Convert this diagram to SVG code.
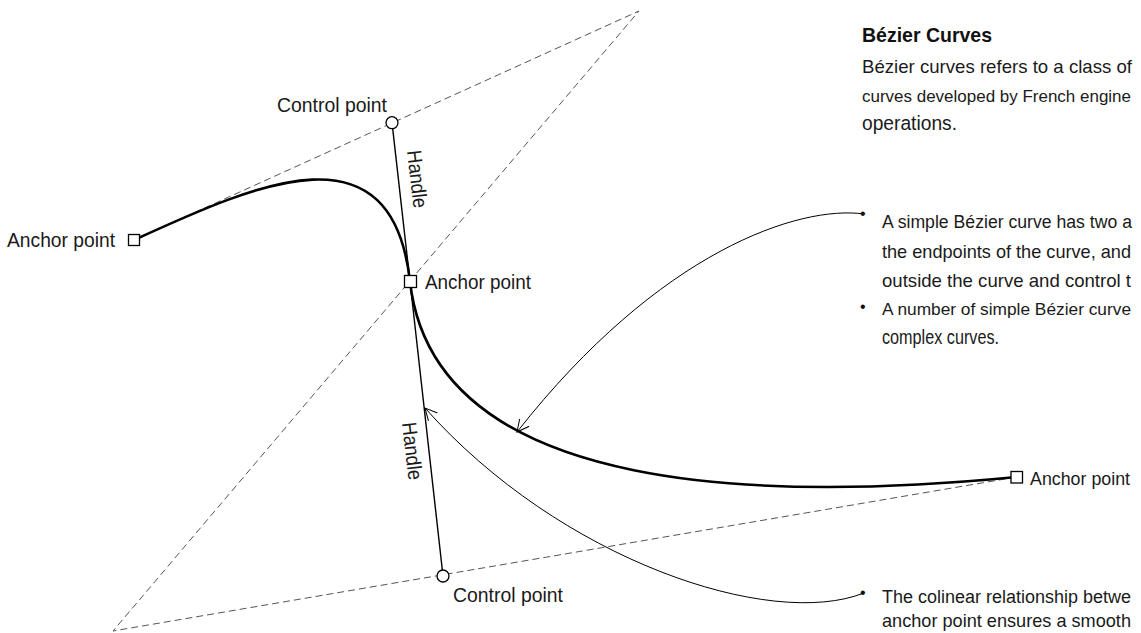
<svg xmlns="http://www.w3.org/2000/svg" width="1141" height="633" viewBox="0 0 1141 633">
  <defs>
    <style>
      .txt { font-family: "Liberation Sans", "Noto Sans", sans-serif; font-size: 20.5px; fill: #1a1a1a; }
      .head { font-family: "Liberation Sans", "Noto Sans", sans-serif; font-size: 21px; font-weight: bold; fill: #111; }
      .bul { font-family: "Liberation Sans", "Noto Sans", sans-serif; font-size: 16px; fill: #111; }
      .dash { fill: none; stroke: #555; stroke-width: 1; stroke-dasharray: 7 4; }
      .curve { fill: none; stroke: #000; stroke-width: 2.6; }
      .handle { fill: none; stroke: #000; stroke-width: 1.4; }
      .conn { fill: none; stroke: #000; stroke-width: 1; }
      .anchor { fill: #fff; stroke: #000; stroke-width: 1.3; }
      .ctrl { fill: #fff; stroke: #000; stroke-width: 1.3; }
    </style>
    <marker id="openArrow" markerUnits="userSpaceOnUse" markerWidth="14" markerHeight="14" refX="12" refY="6" orient="auto" viewBox="0 0 14 12">
      <path d="M0,0 L12,6 L0,12" fill="none" stroke="#000" stroke-width="1"/>
    </marker>
  </defs>

  <!-- construction (dashed) lines -->
  <g id="guides">
    <polyline class="dash" points="134,240 639,11 113,631 1016.7,477"/>
  </g>

  <!-- handles -->
  <g id="handles">
    <line class="handle" x1="392" y1="122.7" x2="410" y2="281.5"/>
    <line class="handle" x1="410" y1="281.5" x2="443" y2="576"/>
  </g>

  <!-- Bezier curves -->
  <g id="curves">
    <path class="curve" d="M134,240 C260,182.4 392,122.7 410,281.5"/>
    <path class="curve" d="M410,281.5 C434.6,501 780,500 1016.7,477"/>
  </g>

  <!-- connectors -->
  <g id="connectors">
    <path class="conn" d="M864,214 C800,205 660,250 517,432" marker-end="url(#openArrow)"/>
    <path class="conn" d="M864,593 C770,630 560,560 425,408" marker-end="url(#openArrow)"/>
  </g>

  <!-- nodes -->
  <g id="anchor-left">
    <rect class="anchor" x="128.5" y="234.5" width="11" height="11"/>
    <text class="txt" x="7" y="246.5" textLength="108" lengthAdjust="spacingAndGlyphs">Anchor point</text>
  </g>
  <g id="control-top">
    <circle class="ctrl" cx="392" cy="122.7" r="6"/>
    <text class="txt" x="277" y="112" textLength="110" lengthAdjust="spacingAndGlyphs">Control point</text>
  </g>
  <g id="anchor-middle">
    <rect class="anchor" x="404.5" y="275.5" width="12" height="12"/>
    <text class="txt" x="425" y="288.5" textLength="106" lengthAdjust="spacingAndGlyphs">Anchor point</text>
  </g>
  <g id="control-bottom">
    <circle class="ctrl" cx="443" cy="576" r="6"/>
    <text class="txt" x="453" y="601.5" textLength="110" lengthAdjust="spacingAndGlyphs">Control point</text>
  </g>
  <g id="anchor-right">
    <rect class="anchor" x="1011" y="471.5" width="11.5" height="11.5"/>
    <text class="txt" x="1030" y="485" style="font-size:17.9px" textLength="100" lengthAdjust="spacingAndGlyphs">Anchor point</text>
  </g>
  <g id="handle-label-top">
    <text class="txt" transform="translate(407,151) rotate(83.5)" x="0" y="0" textLength="58" lengthAdjust="spacingAndGlyphs">Handle</text>
  </g>
  <g id="handle-label-bottom">
    <text class="txt" transform="translate(402,423) rotate(83.5)" x="0" y="0" textLength="58" lengthAdjust="spacingAndGlyphs">Handle</text>
  </g>

  <!-- description panel -->
  <g id="description">
    <text class="head" x="862" y="41.5" textLength="130" lengthAdjust="spacingAndGlyphs">Bézier Curves</text>
    <text class="txt" x="862" y="73" style="font-size:18.6px" textLength="270" lengthAdjust="spacingAndGlyphs">Bézier curves refers to a class of</text>
    <text class="txt" x="862" y="101.5" style="font-size:17px" textLength="269" lengthAdjust="spacingAndGlyphs">curves developed by French engine</text>
    <text class="txt" x="862" y="130" textLength="95" lengthAdjust="spacingAndGlyphs">operations.</text>

    <text class="bul" x="860" y="218.5">•</text>
    <text class="txt" x="882" y="228" style="font-size:17.6px" textLength="250" lengthAdjust="spacingAndGlyphs">A simple Bézier curve has two a</text>
    <text class="txt" x="882" y="257.5" style="font-size:18.2px" textLength="249" lengthAdjust="spacingAndGlyphs">the endpoints of the curve, and</text>
    <text class="txt" x="882" y="287" style="font-size:18.6px" textLength="249" lengthAdjust="spacingAndGlyphs">outside the curve and control t</text>
    <text class="bul" x="860" y="311.5">•</text>
    <text class="txt" x="882" y="315" style="font-size:17.3px" textLength="249" lengthAdjust="spacingAndGlyphs">A number of simple Bézier curve</text>
    <text class="txt" x="882" y="344" textLength="117" lengthAdjust="spacingAndGlyphs">complex curves.</text>

    <text class="bul" x="860" y="597.5">•</text>
    <text class="txt" x="882" y="603" style="font-size:18px" textLength="249" lengthAdjust="spacingAndGlyphs">The colinear relationship betwe</text>
    <text class="txt" x="882" y="627" style="font-size:18.2px" textLength="249" lengthAdjust="spacingAndGlyphs">anchor point ensures a smooth</text>
  </g>
</svg>
